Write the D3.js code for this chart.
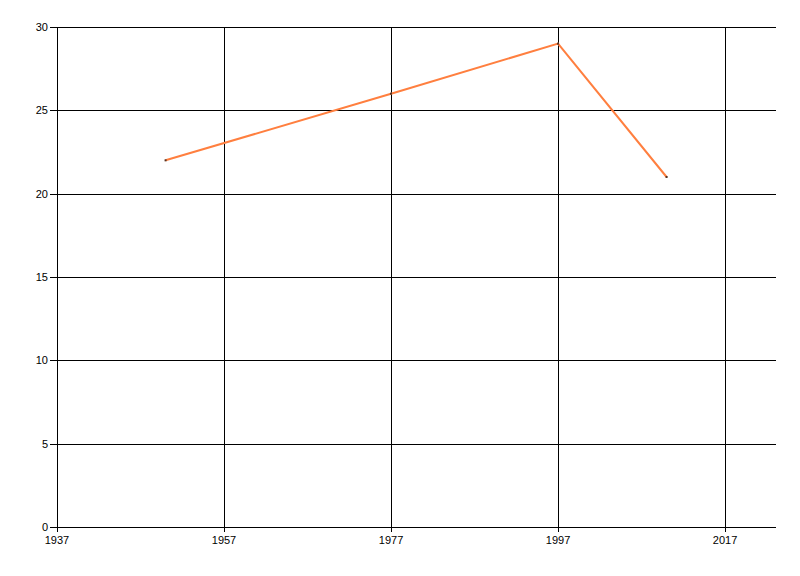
<!DOCTYPE html>
<html><head><meta charset="utf-8">
<script src="https://cdn.jsdelivr.net/npm/d3@7"></script>
<style>body{margin:0;background:#fff}svg{display:block}</style>
</head><body>
<script>
const years = [1950, 1977, 1997, 2010];
const values = [22, 26, 29, 21];
const xTicks = [1937, 1957, 1977, 1997, 2017];
const yTicks = [0, 5, 10, 15, 20, 25, 30];

const W = 800, H = 576;
const m = {left: 57, right: 24, top: 27, bottom: 49};
const svg = d3.select("body").append("svg").attr("width", W).attr("height", H);
const x = d3.scaleLinear().domain([1937, 2023.1]).range([m.left, W - m.right]);
const y = d3.scaleLinear().domain([0, 30]).range([H - m.bottom, m.top]);

const font = "'Liberation Sans', Arial, sans-serif";
// grid
svg.append("g").selectAll("line").data(yTicks).join("line")
  .attr("x1", m.left - 7).attr("x2", W - m.right)
  .attr("y1", d => Math.round(y(d)) + 0.5).attr("y2", d => Math.round(y(d)) + 0.5)
  .attr("stroke", "#000").attr("stroke-width", 1);
svg.append("g").selectAll("line").data(xTicks).join("line")
  .attr("x1", d => Math.round(x(d)) + 0.5).attr("x2", d => Math.round(x(d)) + 0.5)
  .attr("y1", m.top).attr("y2", H - m.bottom + 5)
  .attr("stroke", "#000").attr("stroke-width", 1);

svg.append("g").selectAll("text").data(yTicks).join("text")
  .attr("x", m.left - 9).attr("y", d => y(d) + 4)
  .attr("text-anchor", "end").attr("font-family", font).attr("font-size", 11)
  .attr("fill", "#000").text(d => d);
svg.append("g").selectAll("text").data(xTicks).join("text")
  .attr("x", d => x(d)).attr("y", H - m.bottom + 17)
  .attr("text-anchor", "middle").attr("font-family", font).attr("font-size", 11)
  .attr("fill", "#000").text(d => d);

const pts = years.map((d, i) => [d, values[i]]);
svg.append("path").datum(pts)
  .attr("d", d3.line().x(d => x(d[0])).y(d => y(d[1])))
  .attr("fill", "none").attr("stroke", "#FF7F3F").attr("stroke-width", 2);
svg.append("g").selectAll("rect").data(pts).join("rect")
  .attr("x", d => x(d[0]) - 1).attr("y", d => y(d[1]) - 1)
  .attr("width", 2).attr("height", 2).attr("fill", "#553322");
</script>
</body></html>
